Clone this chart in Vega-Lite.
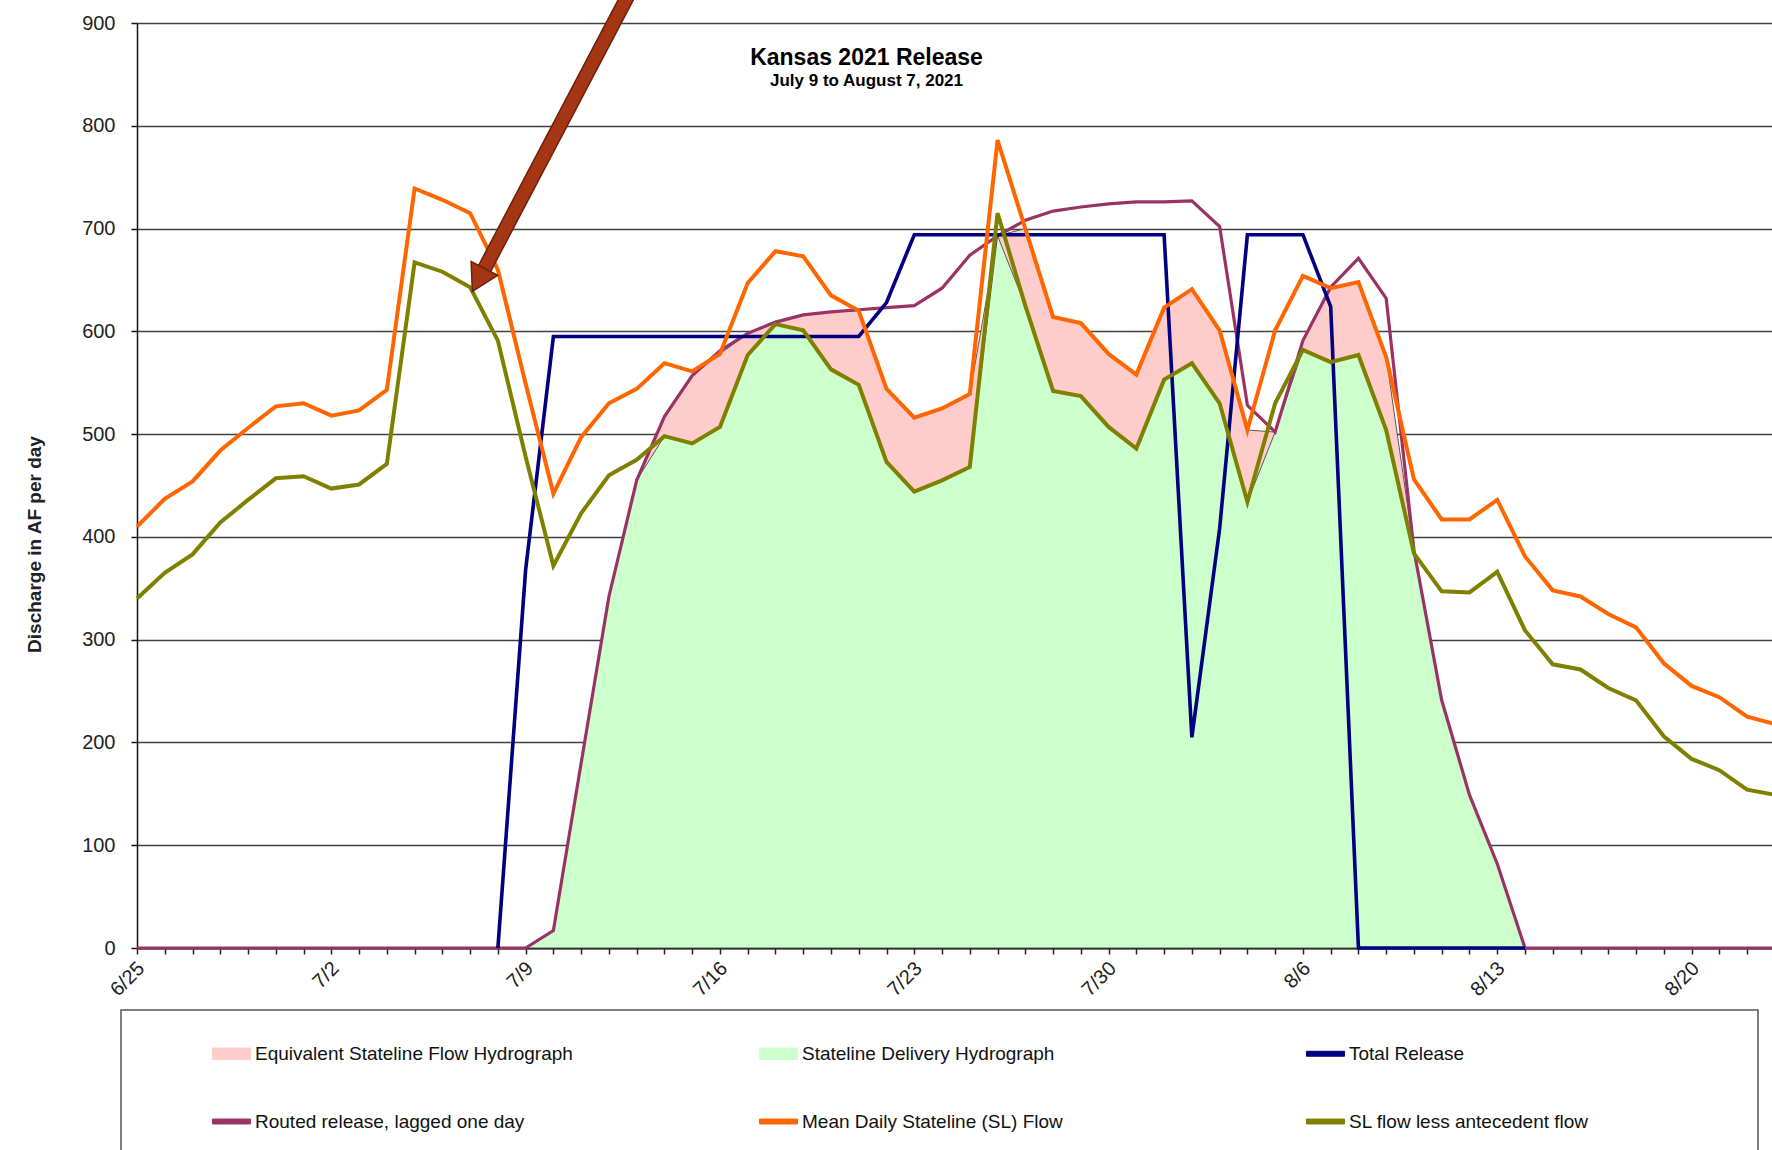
{
  "$schema": "https://vega.github.io/schema/vega-lite/v6.json",
  "autosize": {"type": "none"},
  "padding": {"left": 137, "top": 23, "right": 0, "bottom": 202},
  "width": 1635,
  "height": 925,
  "background": "white",
  "config": {"view": {"stroke": null}, "font": "Liberation Sans"},
  "title": {
    "text": "Kansas 2021 Release",
    "subtitle": "July 9 to August 7, 2021",
    "anchor": "middle",
    "frame": "group",
    "orient": "top",
    "offset": 0,
    "dx": -88,
    "dy": 101,
    "font": "Liberation Sans",
    "fontSize": 23,
    "fontWeight": "bold",
    "color": "#000000",
    "subtitleFont": "Liberation Sans",
    "subtitleFontSize": 17,
    "subtitleFontWeight": "bold",
    "subtitleColor": "#000000",
    "subtitlePadding": 3
  },
  "datasets": {
    "flows": [
      {"date": "2021-06-25", "mean": 410, "less": 340, "routed": 0},
      {"date": "2021-06-26", "mean": 437, "less": 365, "routed": 0},
      {"date": "2021-06-27", "mean": 454, "less": 383, "routed": 0},
      {"date": "2021-06-28", "mean": 484, "less": 414, "routed": 0},
      {"date": "2021-06-29", "mean": 506, "less": 436, "routed": 0},
      {"date": "2021-06-30", "mean": 527, "less": 457, "routed": 0},
      {"date": "2021-07-01", "mean": 530, "less": 459, "routed": 0},
      {"date": "2021-07-02", "mean": 518, "less": 447, "routed": 0},
      {"date": "2021-07-03", "mean": 523, "less": 451, "routed": 0},
      {"date": "2021-07-04", "mean": 543, "less": 471, "routed": 0},
      {"date": "2021-07-05", "mean": 739, "less": 667, "routed": 0},
      {"date": "2021-07-06", "mean": 728, "less": 658, "routed": 0},
      {"date": "2021-07-07", "mean": 715, "less": 643, "routed": 0},
      {"date": "2021-07-08", "mean": 660, "less": 591, "routed": 0, "total": 0},
      {"date": "2021-07-09", "mean": 549, "less": 478, "routed": 0, "total": 368, "esf": 0, "sdh": 0},
      {"date": "2021-07-10", "mean": 442, "less": 372, "routed": 17, "total": 595, "esf": 17, "sdh": 17},
      {"date": "2021-07-11", "mean": 497, "less": 423, "routed": 180, "total": 595, "esf": 180, "sdh": 180},
      {"date": "2021-07-12", "mean": 530, "less": 460, "routed": 342, "total": 595, "esf": 342, "sdh": 342},
      {"date": "2021-07-13", "mean": 544, "less": 475, "routed": 455, "total": 595, "esf": 455, "sdh": 455},
      {"date": "2021-07-14", "mean": 569, "less": 498, "routed": 517, "total": 595, "esf": 517, "sdh": 498},
      {"date": "2021-07-15", "mean": 561, "less": 491, "routed": 557, "total": 595, "esf": 557, "sdh": 491},
      {"date": "2021-07-16", "mean": 578, "less": 507, "routed": 581, "total": 595, "esf": 578, "sdh": 507},
      {"date": "2021-07-17", "mean": 647, "less": 577, "routed": 598, "total": 595, "esf": 598, "sdh": 577},
      {"date": "2021-07-18", "mean": 678, "less": 607, "routed": 609, "total": 595, "esf": 609, "sdh": 607},
      {"date": "2021-07-19", "mean": 673, "less": 601, "routed": 616, "total": 595, "esf": 616, "sdh": 601},
      {"date": "2021-07-20", "mean": 635, "less": 563, "routed": 619, "total": 595, "esf": 619, "sdh": 563},
      {"date": "2021-07-21", "mean": 620, "less": 548, "routed": 621, "total": 595, "esf": 620, "sdh": 548},
      {"date": "2021-07-22", "mean": 544, "less": 473, "routed": 623, "total": 628, "esf": 544, "sdh": 473},
      {"date": "2021-07-23", "mean": 516, "less": 444, "routed": 625, "total": 694, "esf": 516, "sdh": 444},
      {"date": "2021-07-24", "mean": 525, "less": 455, "routed": 642, "total": 694, "esf": 525, "sdh": 455},
      {"date": "2021-07-25", "mean": 539, "less": 468, "routed": 674, "total": 694, "esf": 539, "sdh": 468},
      {"date": "2021-07-26", "mean": 786, "less": 715, "routed": 693, "total": 694, "esf": 693, "sdh": 693},
      {"date": "2021-07-27", "mean": 700, "less": 625, "routed": 708, "total": 694, "esf": 700, "sdh": 625},
      {"date": "2021-07-28", "mean": 614, "less": 542, "routed": 717, "total": 694, "esf": 614, "sdh": 542},
      {"date": "2021-07-29", "mean": 608, "less": 537, "routed": 721, "total": 694, "esf": 608, "sdh": 537},
      {"date": "2021-07-30", "mean": 578, "less": 507, "routed": 724, "total": 694, "esf": 578, "sdh": 507},
      {"date": "2021-07-31", "mean": 558, "less": 486, "routed": 726, "total": 694, "esf": 558, "sdh": 486},
      {"date": "2021-08-01", "mean": 623, "less": 553, "routed": 726, "total": 694, "esf": 623, "sdh": 553},
      {"date": "2021-08-02", "mean": 641, "less": 569, "routed": 727, "total": 205, "esf": 641, "sdh": 569},
      {"date": "2021-08-03", "mean": 601, "less": 530, "routed": 702, "total": 408, "esf": 601, "sdh": 530},
      {"date": "2021-08-04", "mean": 504, "less": 434, "routed": 528, "total": 694, "esf": 504, "sdh": 434},
      {"date": "2021-08-05", "mean": 601, "less": 530, "routed": 502, "total": 694, "esf": 502, "sdh": 502},
      {"date": "2021-08-06", "mean": 654, "less": 582, "routed": 591, "total": 694, "esf": 591, "sdh": 582},
      {"date": "2021-08-07", "mean": 642, "less": 570, "routed": 643, "total": 624, "esf": 642, "sdh": 570},
      {"date": "2021-08-08", "mean": 648, "less": 577, "routed": 671, "total": 0, "esf": 648, "sdh": 577},
      {"date": "2021-08-09", "mean": 575, "less": 504, "routed": 632, "total": 0, "esf": 575, "sdh": 504},
      {"date": "2021-08-10", "mean": 456, "less": 384, "routed": 387, "total": 0, "esf": 387, "sdh": 384},
      {"date": "2021-08-11", "mean": 417, "less": 347, "routed": 241, "total": 0, "esf": 241, "sdh": 241},
      {"date": "2021-08-12", "mean": 417, "less": 346, "routed": 149, "total": 0, "esf": 149, "sdh": 149},
      {"date": "2021-08-13", "mean": 436, "less": 366, "routed": 82, "total": 0, "esf": 82, "sdh": 82},
      {"date": "2021-08-14", "mean": 381, "less": 309, "routed": 0, "total": 0, "esf": 0, "sdh": 0},
      {"date": "2021-08-15", "mean": 348, "less": 276, "routed": 0},
      {"date": "2021-08-16", "mean": 342, "less": 271, "routed": 0},
      {"date": "2021-08-17", "mean": 325, "less": 253, "routed": 0},
      {"date": "2021-08-18", "mean": 312, "less": 241, "routed": 0},
      {"date": "2021-08-19", "mean": 277, "less": 206, "routed": 0},
      {"date": "2021-08-20", "mean": 255, "less": 184, "routed": 0},
      {"date": "2021-08-21", "mean": 244, "less": 173, "routed": 0},
      {"date": "2021-08-22", "mean": 225, "less": 154, "routed": 0},
      {"date": "2021-08-23", "mean": 218, "less": 149, "routed": 0}
    ],
    "arrow": [
      {"date": "2021-07-12T16:41:00Z", "value": 927, "date2": "2021-07-07T12:26:00Z", "value2": 661}
    ],
    "head": [
      {"date": "2021-07-07T07:09:00Z", "value": 650}
    ]
  },
  "layer": [
    {
      "data": {"name": "flows"},
      "transform": [
        {"fold": ["esf", "sdh", "total", "routed", "mean", "less"], "as": ["series", "value"]},
        {"filter": "isValid(datum.value)"}
      ],
      "encoding": {
        "x": {
          "field": "date",
          "type": "temporal",
          "scale": {"type": "utc", "domain": [1624579200000, 1629667987200]},
          "axis": {
            "title": null,
            "tickCount": {"interval": "day", "step": 1},
            "labelExpr": "round((datum.value - 1624579200000) / 86400000) % 7 == 0 ? utcFormat(datum.value, '%-m/%-d') : ''",
            "labelAngle": -45,
            "labelAlign": "right",
            "labelBaseline": "middle",
            "labelFont": "Liberation Sans",
            "labelFontSize": 20,
            "labelColor": "#222222",
            "labelPadding": 11,
            "labelOffset": 4,
            "labelOverlap": false,
            "labelFlush": false,
            "labelBound": false,
            "tickSize": 6,
            "tickColor": "#222222",
            "tickWidth": 1.5,
            "domainColor": "#222222",
            "domainWidth": 2,
            "grid": false
          }
        },
        "y": {
          "field": "value",
          "type": "quantitative",
          "scale": {"domain": [0, 900], "nice": false, "zero": true},
          "axis": {
            "title": "Discharge in AF per day",
            "titleFont": "Liberation Sans",
            "titleFontSize": 19,
            "titleFontWeight": "bold",
            "titleColor": "#222222",
            "titleX": -103,
            "titleY": 521,
            "titleAngle": -90,
            "titleAlign": "center",
            "titleBaseline": "middle",
            "values": [0, 100, 200, 300, 400, 500, 600, 700, 800, 900],
            "labelFont": "Liberation Sans",
            "labelFontSize": 20,
            "labelColor": "#222222",
            "labelPadding": 16,
            "tickSize": 6,
            "tickColor": "#111111",
            "tickWidth": 1.5,
            "domainColor": "#111111",
            "domainWidth": 1.5,
            "grid": true,
            "gridColor": "#404040",
            "gridWidth": 1.7
          }
        },
        "color": {
          "field": "series",
          "type": "nominal",
          "scale": {
            "domain": ["esf", "sdh", "total", "routed", "mean", "less"],
            "range": ["#FFCCCC", "#CCFFCC", "#000080", "#993366", "#FF6600", "#808000"]
          },
          "legend": {
            "title": "\u00a0",
            "titleOrient": "right",
            "titlePadding": 145,
            "titleFontSize": 10,
            "orient": "none",
            "legendX": -16,
            "legendY": 987,
            "direction": "horizontal",
            "columns": 3,
            "gridAlign": "all",
            "columnPadding": 119,
            "rowPadding": 38,
            "padding": 24,
            "symbolOffset": 67,
            "labelOffset": 4,
            "fillColor": "white",
            "strokeColor": "#555555",
            "labelFont": "Liberation Sans",
            "labelFontSize": 19,
            "labelColor": "#111111",
            "labelLimit": 500,
            "symbolSize": 1444,
            "symbolOpacity": 1,
            "labelExpr": "datum.value == 'esf' ? 'Equivalent Stateline Flow Hydrograph' : datum.value == 'sdh' ? 'Stateline Delivery Hydrograph' : datum.value == 'total' ? 'Total Release' : datum.value == 'routed' ? 'Routed release, lagged one day' : datum.value == 'mean' ? 'Mean Daily Stateline (SL) Flow' : 'SL flow less antecedent flow'",
            "encode": {
              "legend": {
                "update": {
                  "strokeWidth": {"value": 1.5}
                }
              },
              "symbols": {
                "update": {
                  "shape": {"signal": "indexof(['esf','sdh'], datum.value) >= 0 ? 'M-1,-0.3H1V0.3H-1Z' : 'M-1,-0.13H1V0.13H-1Z'"},
                  "fill": {"scale": "color", "field": "value"},
                  "stroke": {"signal": "indexof(['esf','sdh'], datum.value) >= 0 ? '#222222' : scale('color', datum.value)"},
                  "strokeWidth": {"value": 1},
                  "opacity": {"value": 1}
                }
              }
            }
          }
        }
      },
      "layer": [
        {"transform": [{"filter": "datum.series == 'esf'"}], "mark": {"type": "area", "stroke": "#333333", "strokeWidth": 0.8, "opacity": 1}},
        {"transform": [{"filter": "datum.series == 'sdh'"}], "mark": {"type": "area", "stroke": "#333333", "strokeWidth": 0.8, "opacity": 1}},
        {"transform": [{"filter": "datum.series == 'routed'"}], "mark": {"type": "line", "strokeWidth": 3.2}},
        {"transform": [{"filter": "datum.series == 'total'"}], "mark": {"type": "line", "strokeWidth": 3.6}},
        {"transform": [{"filter": "datum.series == 'mean'"}], "mark": {"type": "line", "strokeWidth": 4}},
        {"transform": [{"filter": "datum.series == 'less'"}], "mark": {"type": "line", "strokeWidth": 4}}
      ]
    },
    {
      "data": {"name": "arrow"},
      "mark": {"type": "rule", "strokeWidth": 15, "color": "#6E1F0B"},
      "encoding": {
        "x": {"field": "date", "type": "temporal", "scale": {"type": "utc", "domain": [1624579200000, 1629667987200]}},
        "y": {"field": "value", "type": "quantitative", "scale": {"domain": [0, 900], "nice": false, "zero": true}},
        "x2": {"field": "date2"},
        "y2": {"field": "value2"}
      }
    },
    {
      "data": {"name": "arrow"},
      "mark": {"type": "rule", "strokeWidth": 12, "color": "#A53614"},
      "encoding": {
        "x": {"field": "date", "type": "temporal", "scale": {"type": "utc", "domain": [1624579200000, 1629667987200]}},
        "y": {"field": "value", "type": "quantitative", "scale": {"domain": [0, 900], "nice": false, "zero": true}},
        "x2": {"field": "date2"},
        "y2": {"field": "value2"}
      }
    },
    {
      "data": {"name": "head"},
      "mark": {"type": "point", "shape": "triangle-up", "filled": true, "size": 900, "angle": 207.7, "color": "#A53614", "stroke": "#6E1F0B", "strokeWidth": 1.5, "opacity": 1},
      "encoding": {
        "x": {"field": "date", "type": "temporal", "scale": {"type": "utc", "domain": [1624579200000, 1629667987200]}},
        "y": {"field": "value", "type": "quantitative", "scale": {"domain": [0, 900], "nice": false, "zero": true}}
      }
    }
  ]
}
